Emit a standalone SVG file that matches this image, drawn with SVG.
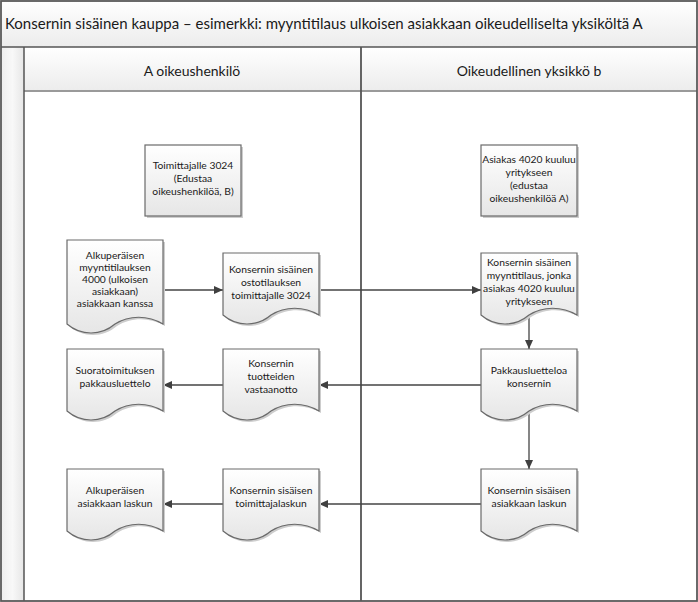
<svg xmlns="http://www.w3.org/2000/svg" xmlns:xlink="http://www.w3.org/1999/xlink" width="698" height="602" viewBox="0 0 698 602">
<style>
text{font-family:Lato,"Open Sans","Liberation Sans",sans-serif;fill:#1a1a1a}
.t{font-size:10.3px;text-anchor:middle}
.title{font-size:15px}
.hdr{font-size:14px;text-anchor:middle}
.node{fill:url(#ng);stroke:#6a6a6a;stroke-width:1.2}
.shadow{fill:#cdcdcd}
.conn{fill:none;stroke:#454545;stroke-width:1.3}
</style>
<defs>
<linearGradient id="ng" x1="0" y1="0" x2="0" y2="1">
<stop offset="0" stop-color="#ffffff"/>
<stop offset="1" stop-color="#e6e6e6"/>
</linearGradient>
<linearGradient id="hg" x1="0" y1="0" x2="0" y2="1">
<stop offset="0" stop-color="#ffffff"/>
<stop offset="1" stop-color="#ececec"/>
</linearGradient>
<linearGradient id="sg" x1="0" y1="0" x2="1" y2="0">
<stop offset="0" stop-color="#ededed"/>
<stop offset="0.5" stop-color="#f8f8f8"/>
<stop offset="1" stop-color="#e6e6e6"/>
</linearGradient>
<path id="doc" d="M0,0 H96 V62 C81,53 62,53 48,62 C34,74 14,74 0,62 Z"/>
<path id="docT" d="M0,0 H96 V84 C81,75 62,75 48,84 C34,96 14,96 0,84 Z"/>
<rect id="box" width="96" height="71"/>
<marker id="ar" markerWidth="9" markerHeight="8" refX="9" refY="4" orient="auto" markerUnits="userSpaceOnUse">
<path d="M0,0 L9,4 L0,8 Z" fill="#404040"/>
</marker>
</defs>

<g id="pool">
<rect x="1" y="1" width="696" height="600" fill="#ffffff"/>
<rect x="1" y="1" width="696" height="46" fill="url(#hg)"/>
<rect x="1" y="47" width="23" height="554" fill="url(#sg)"/>
<rect x="24" y="47" width="673" height="44" fill="url(#hg)"/>
<line x1="24" y1="91" x2="697" y2="91" stroke="#9a9a9a" stroke-width="2"/>
<line x1="1" y1="47" x2="697" y2="47" stroke="#555555" stroke-width="1.5"/>
<line x1="24" y1="47" x2="24" y2="601" stroke="#555555" stroke-width="1.5"/>
<line x1="361" y1="47" x2="361" y2="601" stroke="#555555" stroke-width="1.8"/>
<rect x="1" y="1" width="696" height="600" fill="none" stroke="#5a5a5a" stroke-width="1.8"/>
<text class="title" x="5" y="29">Konsernin sisäinen kauppa – esimerkki: myyntitilaus ulkoisen asiakkaan oikeudelliselta yksiköltä A</text>
<text class="hdr" x="192" y="76">A oikeushenkilö</text>
<text class="hdr" x="529" y="76">Oikeudellinen yksikkö b</text>
</g>

<g id="connectors">
<line class="conn" x1="163" y1="290" x2="223" y2="290" marker-end="url(#ar)"/>
<line class="conn" x1="319" y1="290" x2="481" y2="290" marker-end="url(#ar)"/>
<line class="conn" x1="529" y1="315" x2="529" y2="349" marker-end="url(#ar)"/>
<line class="conn" x1="481" y1="385" x2="319" y2="385" marker-end="url(#ar)"/>
<line class="conn" x1="223" y1="385" x2="163" y2="385" marker-end="url(#ar)"/>
<line class="conn" x1="529" y1="411" x2="529" y2="469" marker-end="url(#ar)"/>
<line class="conn" x1="481" y1="504" x2="319" y2="504" marker-end="url(#ar)"/>
<line class="conn" x1="223" y1="504" x2="163" y2="504" marker-end="url(#ar)"/>
</g>

<g id="n-toimittajalle">
<use href="#box" class="shadow" x="147" y="147"/>
<use href="#box" class="node" x="145" y="145"/>
<text class="t" x="193"><tspan x="193" y="169">Toimittajalle 3024</tspan><tspan x="193" y="182">(Edustaa</tspan><tspan x="193" y="195">oikeushenkilöä, B)</tspan></text>
</g>
<g id="n-asiakas">
<use href="#box" class="shadow" x="483" y="147"/>
<use href="#box" class="node" x="481" y="145"/>
<text class="t"><tspan x="529" y="163">Asiakas 4020 kuuluu</tspan><tspan x="529" y="176">yritykseen</tspan><tspan x="529" y="189">(edustaa</tspan><tspan x="529" y="202">oikeushenkilöä A)</tspan></text>
</g>
<g id="n-alkuperainen-myynti">
<use href="#docT" class="shadow" x="69" y="242"/>
<use href="#docT" class="node" x="67" y="240"/>
<text class="t"><tspan x="115" y="259">Alkuperäisen</tspan><tspan x="115" y="271">myyntitilauksen</tspan><tspan x="115" y="283">4000 (ulkoisen</tspan><tspan x="115" y="295">asiakkaan)</tspan><tspan x="115" y="307">asiakkaan kanssa</tspan></text>
</g>
<g id="n-ostotilaus">
<use href="#doc" class="shadow" x="225" y="255"/>
<use href="#doc" class="node" x="223" y="253"/>
<text class="t"><tspan x="271" y="273">Konsernin sisäinen</tspan><tspan x="271" y="286">ostotilauksen</tspan><tspan x="271" y="299">toimittajalle 3024</tspan></text>
</g>
<g id="n-myyntitilaus">
<use href="#doc" class="shadow" x="483" y="255"/>
<use href="#doc" class="node" x="481" y="253"/>
<text class="t"><tspan x="529" y="266">Konsernin sisäinen</tspan><tspan x="529" y="279">myyntitilaus, jonka</tspan><tspan x="529" y="292">asiakas 4020 kuuluu</tspan><tspan x="529" y="305">yritykseen</tspan></text>
</g>
<g id="n-suoratoimitus">
<use href="#doc" class="shadow" x="69" y="351"/>
<use href="#doc" class="node" x="67" y="349"/>
<text class="t"><tspan x="115" y="374">Suoratoimituksen</tspan><tspan x="115" y="387">pakkausluettelo</tspan></text>
</g>
<g id="n-vastaanotto">
<use href="#doc" class="shadow" x="225" y="351"/>
<use href="#doc" class="node" x="223" y="349"/>
<text class="t"><tspan x="271" y="367">Konsernin</tspan><tspan x="271" y="380">tuotteiden</tspan><tspan x="271" y="393">vastaanotto</tspan></text>
</g>
<g id="n-pakkausluettelo">
<use href="#doc" class="shadow" x="483" y="351"/>
<use href="#doc" class="node" x="481" y="349"/>
<text class="t"><tspan x="529" y="374">Pakkausluetteloa</tspan><tspan x="529" y="387">konsernin</tspan></text>
</g>
<g id="n-alkuperainen-lasku">
<use href="#doc" class="shadow" x="69" y="471"/>
<use href="#doc" class="node" x="67" y="469"/>
<text class="t"><tspan x="115" y="494">Alkuperäisen</tspan><tspan x="115" y="507">asiakkaan laskun</tspan></text>
</g>
<g id="n-toimittajalasku">
<use href="#doc" class="shadow" x="225" y="471"/>
<use href="#doc" class="node" x="223" y="469"/>
<text class="t"><tspan x="271" y="494">Konsernin sisäisen</tspan><tspan x="271" y="507">toimittajalaskun</tspan></text>
</g>
<g id="n-asiakaslasku">
<use href="#doc" class="shadow" x="483" y="471"/>
<use href="#doc" class="node" x="481" y="469"/>
<text class="t"><tspan x="529" y="494">Konsernin sisäisen</tspan><tspan x="529" y="507">asiakkaan laskun</tspan></text>
</g>
</svg>
